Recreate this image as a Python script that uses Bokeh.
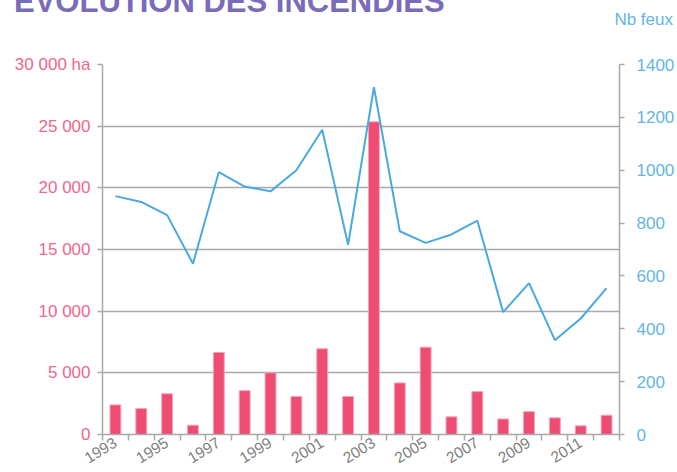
import math
from bokeh.plotting import figure
from bokeh.layouts import column
from bokeh.models import (Range1d, LinearAxis, FixedTicker, ColumnDataSource,
                          Grid, Div)
from bokeh.embed import file_html
from bokeh.resources import INLINE

# ---- data ----
years = [1993, 1994, 1995, 1996, 1997, 1998, 1999, 2000, 2001, 2002,
         2003, 2004, 2005, 2006, 2007, 2008, 2009, 2010, 2011, 2012]
hectares = [2400, 2100, 3300, 750, 6650, 3550, 5000, 3080, 6950, 3080,
            25350, 4180, 7080, 1430, 3480, 1260, 1850, 1350, 700, 1560]
nb_feux = [902, 880, 830, 646, 993, 938, 920, 1000, 1153, 718,
           1314, 769, 725, 757, 809, 463, 573, 357, 439, 554]
year_labels = ["1993", "", "1995", "", "1997", "", "1999", "", "2001", "",
               "2003", "", "2005", "", "2007", "", "2009", "", "2011", ""]
ha_ticks = [0, 5000, 10000, 15000, 20000, 25000, 30000]
ha_tick_labels = ["0", "5 000", "10 000", "15 000", "20 000", "25 000", "30 000 ha"]
feux_ticks = [0, 200, 400, 600, 800, 1000, 1200, 1400]
title_text = "ÉVOLUTION DES INCENDIES"
right_unit = "Nb feux"

FONT = "Liberation Sans"
PINK = "#ef4c73"
PINK_TXT = "#f0678a"
BLUE = "#4aa9e0"
BLUE_TXT = "#62b6e7"
GRAY = "#a9a9a9"
PURPLE = "#7a6cb8"

W, H = 677, 472
HEAD_H = 30

# ---- header strip (title, cut at the top as in the source, + unit of right axis) ----
head_html = (
    f'<div style="position:relative;width:{W}px;height:{HEAD_H}px;overflow:hidden;'
    f'font-family:\'{FONT}\';margin:0;padding:0;">'
    f'<span style="position:absolute;left:14px;top:-14px;font-size:31px;line-height:1;'
    f'font-weight:bold;color:{PURPLE};white-space:nowrap;">{title_text}</span>'
    f'<span style="position:absolute;right:4px;top:11px;font-size:17px;line-height:1;'
    f'color:{BLUE_TXT};white-space:nowrap;">{right_unit}</span>'
    f'</div>'
)
head = Div(text=head_html, width=W, height=HEAD_H, margin=(0, 0, 0, 0))

# ---- main chart ----
p = figure(width=W, height=H - HEAD_H, output_backend="svg", toolbar_location=None,
           x_range=Range1d(years[0] - 0.5, years[-1] + 0.5),
           y_range=Range1d(0, 30000),
           min_border_left=102, min_border_right=57, min_border_top=64 - HEAD_H,
           min_border_bottom=38, x_axis_type=None, y_axis_type=None)
p.outline_line_color = None
p.background_fill_color = "white"
p.border_fill_color = "white"
p.extra_y_ranges = {"feux": Range1d(0, 1400)}

# left axis
yl = LinearAxis(ticker=FixedTicker(ticks=ha_ticks),
                major_label_overrides={t: l for t, l in zip(ha_ticks, ha_tick_labels)})
yl.axis_line_color = GRAY
yl.axis_line_width = 1.5
yl.major_tick_line_color = GRAY
yl.major_tick_line_width = 1.5
yl.major_tick_out = 5
yl.major_tick_in = 0
yl.minor_tick_line_color = None
yl.major_label_standoff = 7
yl.major_label_text_font = FONT
yl.major_label_text_font_size = "17px"
yl.major_label_text_color = PINK_TXT
p.add_layout(yl, "left")

# right axis
yr = LinearAxis(y_range_name="feux", ticker=FixedTicker(ticks=feux_ticks))
yr.axis_line_color = GRAY
yr.axis_line_width = 1.5
yr.major_tick_line_color = GRAY
yr.major_tick_line_width = 1.5
yr.major_tick_out = 5
yr.major_tick_in = 0
yr.minor_tick_line_color = None
yr.major_label_standoff = 12
yr.major_label_text_font = FONT
yr.major_label_text_font_size = "17px"
yr.major_label_text_color = BLUE_TXT
p.add_layout(yr, "right")

# bottom axis: labels at the years, tick marks between the years
half = [y - 0.5 for y in years] + [years[-1] + 0.5]
xb = LinearAxis(ticker=FixedTicker(ticks=years, minor_ticks=half),
                major_label_overrides={y: l for y, l in zip(years, year_labels)})
xb.axis_line_color = GRAY
xb.axis_line_width = 1.5
xb.major_tick_line_color = None
xb.major_tick_out = 0
xb.major_tick_in = 0
xb.minor_tick_line_color = GRAY
xb.minor_tick_line_width = 1.5
xb.minor_tick_out = 6
xb.minor_tick_in = 0
xb.major_label_orientation = 0.55
xb.major_label_standoff = 1
xb.major_label_text_font = FONT
xb.major_label_text_font_size = "15.5px"
xb.major_label_text_color = "#7f7f7f"
p.add_layout(xb, "below")

# horizontal grid
g = Grid(dimension=1, ticker=FixedTicker(ticks=ha_ticks))
g.grid_line_color = GRAY
g.grid_line_width = 1.5
p.add_layout(g)

src = ColumnDataSource(dict(year=years, ha=hectares, feux=nb_feux))
p.vbar(x="year", top="ha", bottom=0, width=0.42, source=src,
       fill_color=PINK, line_color="#f6a2b8", line_width=1)
p.line(x="year", y="feux", source=src, y_range_name="feux",
       line_color=BLUE, line_width=2)

layout = column(head, p, spacing=0)
open("out.html", "w").write(file_html(layout, INLINE))
